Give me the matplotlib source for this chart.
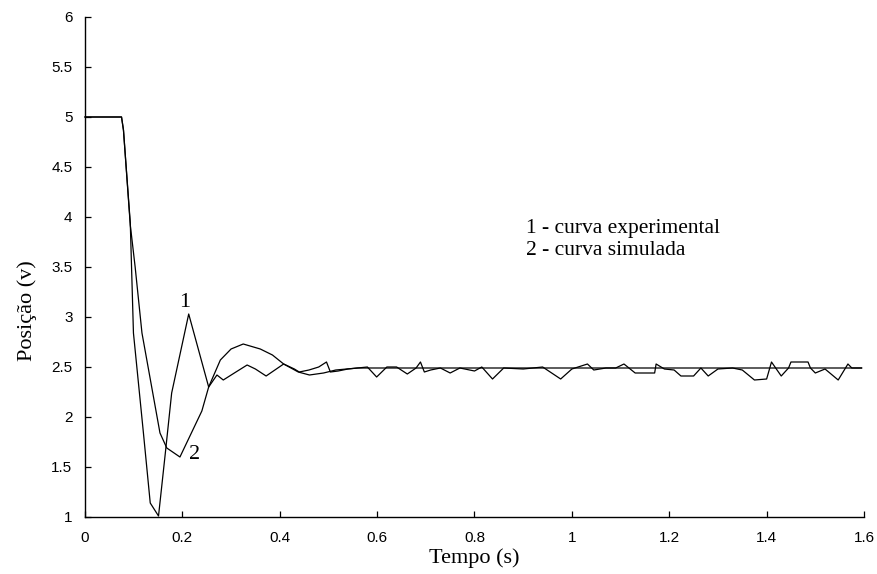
import matplotlib.pyplot as plt
from matplotlib.ticker import FormatStrFormatter

# curva 1 - experimental
t_exp = [0, 0.075, 0.079, 0.093, 0.0995, 0.12, 0.134, 0.151, 0.165, 0.178,
         0.213, 0.254, 0.271, 0.284, 0.31, 0.333, 0.35, 0.372, 0.39, 0.408,
         0.43, 0.44, 0.46, 0.48, 0.496, 0.504, 0.52, 0.54, 0.56, 0.58,
         0.599, 0.62, 0.64, 0.662, 0.68, 0.689, 0.697, 0.71, 0.73, 0.75,
         0.77, 0.80, 0.815, 0.837, 0.86, 0.90, 0.94, 0.977, 1.0, 1.032,
         1.045, 1.07, 1.09, 1.107, 1.13, 1.17, 1.173, 1.19, 1.21, 1.224,
         1.25, 1.265, 1.28, 1.30, 1.33, 1.35, 1.375, 1.40, 1.41, 1.43,
         1.445, 1.45, 1.485, 1.49, 1.50, 1.52, 1.547, 1.567, 1.575, 1.595]
y_exp = [5.0, 5.0, 4.87, 3.94, 2.84, 1.84, 1.14, 1.01, 1.64, 2.24,
         3.03, 2.30, 2.42, 2.37, 2.45, 2.52, 2.48, 2.41, 2.47, 2.53,
         2.48, 2.45, 2.47, 2.50, 2.55, 2.45, 2.46, 2.48, 2.49, 2.50,
         2.40, 2.50, 2.50, 2.43, 2.49, 2.55, 2.45, 2.47, 2.49, 2.44,
         2.49, 2.46, 2.50, 2.38, 2.49, 2.48, 2.50, 2.38, 2.48, 2.53,
         2.47, 2.49, 2.49, 2.53, 2.44, 2.44, 2.53, 2.48, 2.47, 2.41,
         2.41, 2.49, 2.41, 2.48, 2.49, 2.47, 2.37, 2.38, 2.55, 2.41,
         2.49, 2.55, 2.55, 2.49, 2.44, 2.48, 2.37, 2.53, 2.49, 2.49]

# curva 2 - simulada
t_sim = [0, 0.075, 0.079, 0.093, 0.103, 0.117, 0.154, 0.168, 0.195, 0.240,
         0.254, 0.278, 0.30, 0.325, 0.36, 0.385, 0.408, 0.438, 0.461, 0.49,
         0.515, 0.56, 0.8, 1.2, 1.595]
y_sim = [5.0, 5.0, 4.87, 3.92, 3.5, 2.84, 1.84, 1.69, 1.60, 2.06,
         2.30, 2.57, 2.68, 2.73, 2.68, 2.62, 2.53, 2.45, 2.42, 2.44,
         2.47, 2.49, 2.49, 2.49, 2.49]

fig = plt.figure(figsize=(8.78, 5.74), dpi=100)
ax = fig.add_axes([85 / 878, 57 / 574, 779 / 878, 500 / 574])

ax.plot(t_exp, y_exp, color='black', lw=0.9, clip_on=False)
ax.plot(t_sim, y_sim, color='black', lw=0.9, clip_on=False)

ax.set_xlim(0, 1.6)
ax.set_ylim(1, 6)
ax.set_xticks([0, 0.2, 0.4, 0.6, 0.8, 1, 1.2, 1.4, 1.6])
ax.set_yticks([1, 1.5, 2, 2.5, 3, 3.5, 4, 4.5, 5, 5.5, 6])
ax.xaxis.set_major_formatter(FormatStrFormatter('%g'))
ax.yaxis.set_major_formatter(FormatStrFormatter('%g'))

for s in ['top', 'right']:
    ax.spines[s].set_visible(False)
for s in ['left', 'bottom']:
    ax.spines[s].set_linewidth(1.0)

ax.tick_params(axis='x', direction='in', length=4, width=0.9, pad=10)
ax.tick_params(axis='y', direction='in', length=4, width=0.9, pad=9)
for lab in ax.get_xticklabels() + ax.get_yticklabels():
    lab.set_family('Liberation Sans')
    lab.set_fontsize(11)

ax.set_xlabel('Tempo (s)', family='Liberation Serif', fontsize=16)
ax.xaxis.set_label_coords(0.5, -0.062)
ax.set_ylabel('Posição (v)', family='Liberation Serif', fontsize=16)
ax.yaxis.set_label_coords(-0.062, 0.412)

ax.text(0.205, 3.1, '1', family='Liberation Serif', fontsize=16,
        ha='center', va='baseline')
ax.text(0.226, 1.58, '2', family='Liberation Serif', fontsize=16,
        ha='center', va='baseline')

ax.text(0.905, 3.84, '1 - curva experimental', family='Liberation Serif',
        fontsize=15.5, va='baseline')
ax.text(0.905, 3.62, '2 - curva simulada', family='Liberation Serif',
        fontsize=15.5, va='baseline')

plt.savefig('out.png', dpi=100)
